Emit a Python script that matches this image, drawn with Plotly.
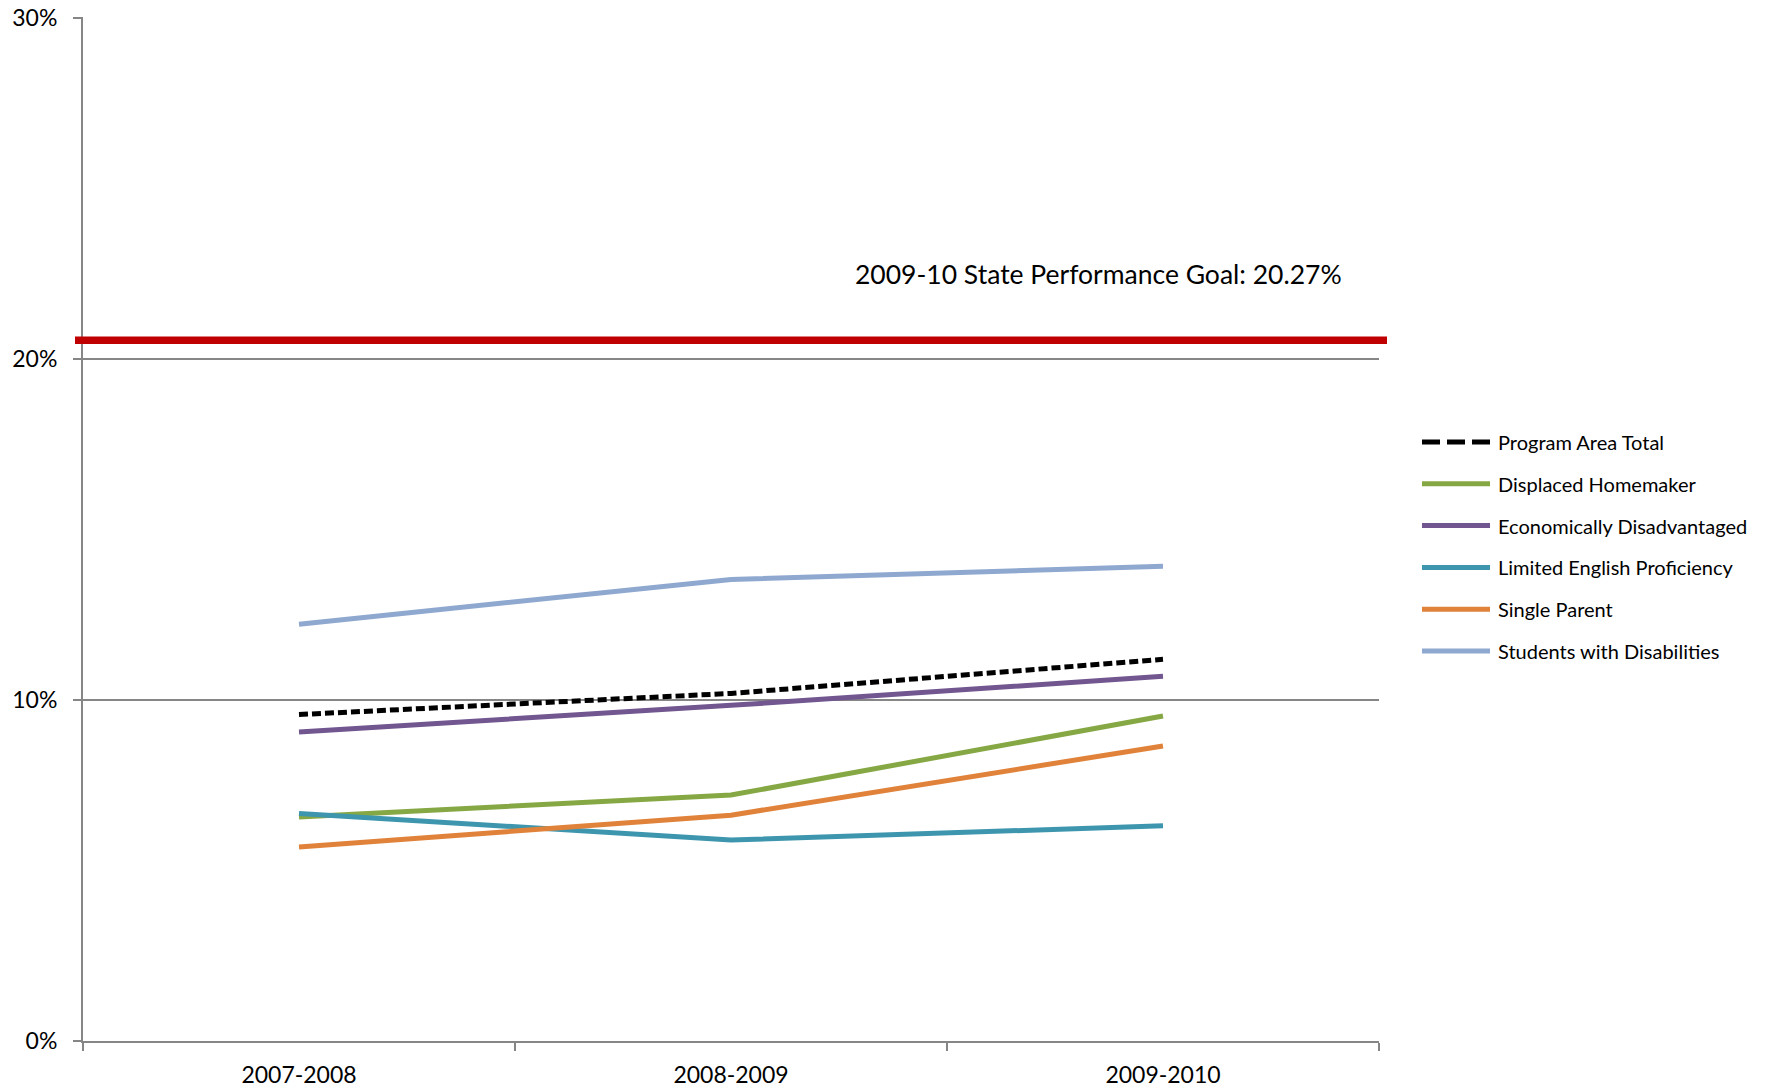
import plotly.graph_objects as go

categories = ["2007-2008", "2008-2009", "2009-2010"]
series_names = ["Program Area Total", "Displaced Homemaker", "Economically Disadvantaged",
                "Limited English Proficiency", "Single Parent", "Students with Disabilities"]
program_total = [9.57, 10.19, 11.19]
displaced_homemaker = [6.57, 7.21, 9.53]
econ_disadvantaged = [9.06, 9.84, 10.69]
limited_english = [6.67, 5.89, 6.31]
single_parent = [5.69, 6.62, 8.65]
students_disabilities = [12.22, 13.53, 13.92]
goal_line_value = 20.54
goal_label = "2009-10 State Performance Goal: 20.27%"
y_ticks = [0, 10, 20, 30]
y_tick_labels = ["0%", "10%", "20%", "30%"]

values = [program_total, displaced_homemaker, econ_disadvantaged,
          limited_english, single_parent, students_disabilities]
colors = ["#000000", "#86A844", "#71568F", "#3E96AE", "#E0823A", "#8FA8CF"]
dashes = ["9px,4px", "solid", "solid", "solid", "solid", "solid"]
legend_dashes = ["18px,7px", "solid", "solid", "solid", "solid", "solid"]

FONT = "Lato, 'Open Sans', sans-serif"
W, H = 1765, 1089
L, R, T, B = 83, 1379, 17, 1041
pw, ph = R - L, B - T

fig = go.Figure()
order = [1, 2, 3, 4, 5, 0]
for i in order:
    fig.add_trace(go.Scatter(
        x=categories, y=values[i], mode="lines", name=series_names[i],
        line=dict(color=colors[i], width=5, dash=dashes[i]),
        showlegend=False, hoverinfo="x+y+name"))

# goal line
fig.add_shape(type="line", xref="paper", yref="y",
              x0=(75 - L) / pw, x1=(1387 - L) / pw, y0=goal_line_value, y1=goal_line_value,
              line=dict(color="#C00000", width=7.5), layer="above")
fig.add_annotation(xref="paper", yref="paper", x=(1344 - L) / pw, y=(B - 274) / ph,
                   text=goal_label, showarrow=False, xanchor="right", yanchor="middle",
                   font=dict(family=FONT, size=26.5, color="#000000"))

# custom legend
y0_pix, step = 442, 41.8
for k, name in enumerate(series_names):
    yp = (B - (y0_pix + k * step)) / ph
    fig.add_shape(type="line", xref="paper", yref="paper",
                  x0=(1422 - L) / pw, x1=(1490 - L) / pw, y0=yp, y1=yp,
                  line=dict(color=colors[k], width=5, dash=legend_dashes[k]))
    fig.add_annotation(xref="paper", yref="paper", x=(1496 - L) / pw, y=yp,
                       text=name, showarrow=False, xanchor="left", yanchor="middle",
                       font=dict(family=FONT, size=20, color="#000000"))

fig.update_layout(
    template="none",
    width=W, height=H,
    margin=dict(l=L, r=W - R, t=T, b=H - B, pad=0, autoexpand=False),
    paper_bgcolor="white", plot_bgcolor="white",
    font=dict(family=FONT, color="#000000"),
    showlegend=False,
)
fig.update_xaxes(
    type="category", range=[-0.5, 2.5], tickson="boundaries", automargin=False,
    ticks="outside", ticklen=8, tickwidth=2, tickcolor="#868686",
    showline=True, linecolor="#868686", linewidth=2,
    showgrid=False, zeroline=False,
    ticklabelstandoff=12,
    tickfont=dict(family=FONT, size=23, color="#000000"),
)
fig.update_yaxes(
    range=[0, 30.02], tickvals=y_ticks, ticktext=y_tick_labels, automargin=False,
    ticks="outside", ticklen=8, tickwidth=2, tickcolor="#868686",
    showline=True, linecolor="#868686", linewidth=2,
    showgrid=True, gridcolor="#868686", gridwidth=1.5, zeroline=False,
    ticklabelstandoff=11,
    tickfont=dict(family=FONT, size=23, color="#000000"),
)

fig.write_html("out.html", config={"displayModeBar": False},
               post_script="document.body.style.margin='0';document.body.style.overflow='hidden';")
